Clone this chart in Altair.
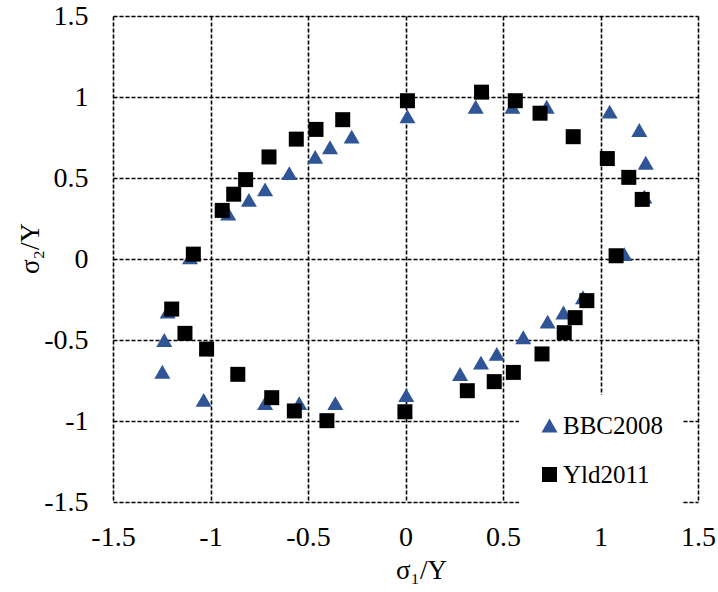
import altair as alt
import pandas as pd

series_names = ["BBC2008", "Yld2011"]

bbc_x = [-1.105, -0.909, -0.803, -0.72, -0.596, -0.463, -0.387, -0.276, 0.01, 0.36, 0.548, 0.724,
         1.047, 1.199, 1.232, 1.225, 1.122, 0.91, 0.81, 0.729, 0.604, 0.468, 0.387, 0.28,
         0.004, -0.36, -0.545, -0.72, -1.035, -1.247, -1.237, -1.22]
bbc_y = [0.01, 0.28, 0.365, 0.43, 0.53, 0.63, 0.69, 0.755, 0.88, 0.94, 0.94, 0.94,
         0.91, 0.796, 0.594, 0.385, 0.03, -0.236, -0.33, -0.387, -0.483, -0.586, -0.64, -0.71,
         -0.84, -0.89, -0.89, -0.89, -0.87, -0.696, -0.50, -0.325]

yld_x = [-1.088, -0.94, -0.881, -0.82, -0.70, -0.56, -0.459, -0.322, 0.01, 0.39, 0.563, 0.69,
         0.86, 1.035, 1.145, 1.214, 1.08, 0.93, 0.87, 0.814, 0.70, 0.553, 0.455, 0.317,
         -0.003, -0.403, -0.57, -0.686, -0.86, -1.02, -1.131, -1.199]
yld_y = [0.03, 0.30, 0.40, 0.49, 0.63, 0.74, 0.80, 0.86, 0.977, 1.03, 0.977, 0.90,
         0.755, 0.62, 0.504, 0.368, 0.02, -0.257, -0.362, -0.455, -0.586, -0.70, -0.757, -0.813,
         -0.943, -0.998, -0.938, -0.856, -0.712, -0.556, -0.459, -0.309]

tick_values = [-1.5, -1.0, -0.5, 0.0, 0.5, 1.0, 1.5]

df = pd.concat([
    pd.DataFrame({"s1": bbc_x, "s2": bbc_y, "series": series_names[0]}),
    pd.DataFrame({"s1": yld_x, "s2": yld_y, "series": series_names[1]}),
], ignore_index=True)

FONT = "'Liberation Serif', 'Times New Roman', Times, serif"

legend = alt.Legend(
    title=None, orient="none", legendX=406, legendY=379,
    fillColor="white", padding=18, labelFontSize=25, labelFont=FONT,
    labelColor="black", labelOffset=1, rowPadding=23, symbolStrokeWidth=0,
)

axis_common = dict(
    values=tick_values, grid=True, ticks=False, domain=False, labelFlush=False,
    labelFontSize=28, labelFont=FONT, labelColor="black",
    titleFontSize=27, titleFont=FONT, titleColor="black", titleFontWeight="normal",
    titleBaseline="alphabetic", titleAlign="center",
    gridColor="black", gridDash=[4, 2], gridWidth=1.6,
    labelExpr="toString(datum.value)",
)

chart = alt.Chart(df).mark_point(filled=True, opacity=1).encode(
    x=alt.X("s1:Q", scale=alt.Scale(domain=[-1.5, 1.5], nice=False, zero=False),
            axis=alt.Axis(title="σ₁/Y", labelPadding=21, titleX=308, titleY=76, **axis_common)),
    y=alt.Y("s2:Q", scale=alt.Scale(domain=[-1.5, 1.5], nice=False, zero=False),
            axis=alt.Axis(title="σ₂/Y", labelPadding=25, titleX=-75, titleY=232, titleAngle=270, **axis_common)),
    color=alt.Color("series:N", scale=alt.Scale(domain=series_names, range=["#2F5597", "#000000"]), legend=legend),
    shape=alt.Shape("series:N", scale=alt.Scale(domain=series_names, range=["triangle-up", "square"]), legend=legend),
    size=alt.Size("series:N", scale=alt.Scale(domain=series_names, range=[256, 225]), legend=legend),
).properties(
    width=585, height=486,
    autosize=alt.AutoSizeParams(type="none"),
    padding={"left": 113, "top": 16, "right": 20, "bottom": 90},
).configure_view(
    stroke="black", strokeWidth=2
).configure(background="white", font=FONT)

chart.save("out.html", embed_options={"renderer": "svg", "actions": False})
